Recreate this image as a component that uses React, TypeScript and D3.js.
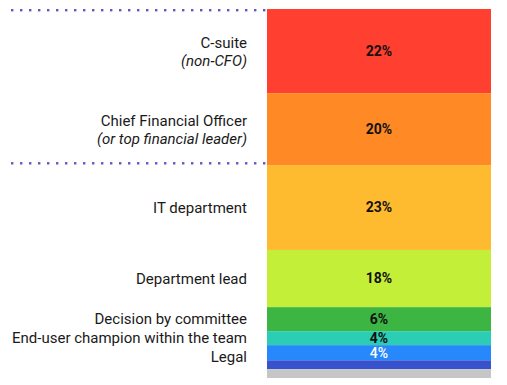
import React from "react";
import * as d3 from "d3";

const categories = [
  "C-suite",
  "Chief Financial Officer",
  "IT department",
  "Department lead",
  "Decision by committee",
  "End-user champion within the team",
  "Legal",
  "Other",
  "Don't know",
];
const subtitles = ["(non-CFO)", "(or top financial leader)", "", "", "", "", "", "", ""];
const shares = [22.8, 19.5, 23.0, 15.5, 6.5, 3.8, 4.1, 2.4, 2.4];
const valueLabels = ["22%", "20%", "23%", "18%", "6%", "4%", "4%", "", ""];
const showCategory = [true, true, true, true, true, true, true, false, false];
const colors = ["#ff3f2f", "#ff8a25", "#ffbb2f", "#c4ef38", "#3db542", "#2bcdb5", "#2688fa", "#3652cc", "#c6c6c6"];
const valueColors = ["#111", "#111", "#111", "#111", "#111", "#111", "#fff", "#111", "#111"];
const dividerAfter = [-1, 1]; // dotted line above index 0 and below index 1

export default function App() {
  const W = 507, H = 385;
  const barX0 = 267, barX1 = 491, top = 9, bottom = 378;
  const total = d3.sum(shares);
  const y = d3.scaleLinear().domain([0, total]).range([top, bottom]);
  const cum = d3.cumsum(shares);
  const segs = shares.map((s, i) => {
    const start = i === 0 ? 0 : cum[i - 1];
    return { i, y0: y(start), y1: y(start + s) };
  });
  const labelY: number[] = [];
  let last = -Infinity;
  segs.forEach((s) => {
    const c = (s.y0 + s.y1) / 2;
    const v = Math.max(c, last + 19);
    labelY.push(v);
    last = v;
  });
  const font = "Roboto, 'Noto Sans', sans-serif";
  const dots = d3.range(12, 265, 9);
  const lineYs = dividerAfter.map((i) => (i < 0 ? segs[0].y0 + 1 : segs[i].y1 - 2));
  return (
    <svg width={W} height={H} style={{ position: "absolute", left: 0, top: 0 }} fontFamily={font}>
      <rect width={W} height={H} fill="#fff" />
      {segs.map((s) => (
        <rect key={s.i} x={barX0} y={s.y0} width={barX1 - barX0} height={s.y1 - s.y0} fill={colors[s.i]} />
      ))}
      {lineYs.map((ly, k) =>
        dots.map((dx) => (
          <rect key={`${k}-${dx}`} x={dx - 1} y={ly - 1} width={2.4} height={2.4} fill="#6456c4" />
        ))
      )}
      {segs.map((s) => {
        const c = (s.y0 + s.y1) / 2;
        return valueLabels[s.i] ? (
          <text
            key={"v" + s.i}
            x={(barX0 + barX1) / 2}
            y={c}
            dy="0.35em"
            textAnchor="middle"
            fontSize={14}
            fontWeight={valueColors[s.i] === "#fff" ? 500 : 700}
            fill={valueColors[s.i]}
          >
            {valueLabels[s.i]}
          </text>
        ) : null;
      })}
      {segs.map((s) => {
        if (!showCategory[s.i]) return null;
        const ly = labelY[s.i];
        const sub = subtitles[s.i];
        return (
          <g key={"c" + s.i}>
            <text
              x={247}
              y={sub ? ly - 8.5 : ly}
              dy="0.35em"
              textAnchor="end"
              fontSize={15}
              fill="#1a1a1a"
            >
              {categories[s.i]}
            </text>
            {sub ? (
              <text x={247} y={ly + 9.5} dy="0.35em" textAnchor="end" fontSize={15} fontStyle="italic" fill="#1a1a1a">
                {sub}
              </text>
            ) : null}
          </g>
        );
      })}
    </svg>
  );
}
